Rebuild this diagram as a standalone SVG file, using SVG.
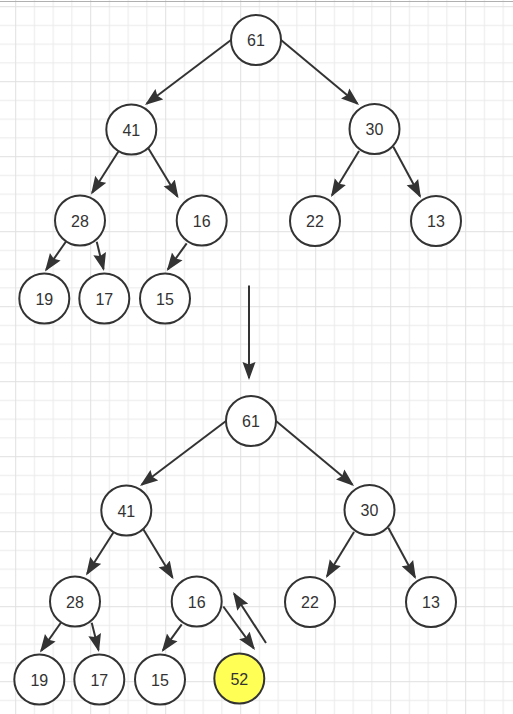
<svg xmlns="http://www.w3.org/2000/svg" width="513" height="714" viewBox="0 0 513 714">
<style>
.n circle{fill:#fff;stroke:#333;stroke-width:2}
.n text{font-family:"Liberation Sans",Arial,sans-serif;font-size:16px;fill:#333;text-anchor:middle}
.e{stroke:#333;stroke-width:2;fill:none;marker-end:url(#ah)}
</style>
<defs>
<pattern id="grid" patternUnits="userSpaceOnUse" x="15.2" y="6.2" width="75" height="75">
<path d="M19.25,0V75M38,0V75M56.75,0V75M0,19.25H75M0,38H75M0,56.75H75" stroke="#eaeaea" stroke-width="1"/>
<path d="M0.5,0V75M0,0.5H75" stroke="#e0e0e0" stroke-width="1"/>
</pattern>
<marker id="ah" markerUnits="userSpaceOnUse" markerWidth="18" markerHeight="14" viewBox="0 0 18 14" refX="16" refY="7" orient="auto">
<path d="M0,0.5L18,7L0,13.5L2.5,7Z" fill="#333"/>
</marker>
</defs>
<rect width="513" height="714" fill="#fff"/>
<rect width="513" height="714" fill="url(#grid)"/>
<line x1="0" y1="1.5" x2="513" y2="1.5" stroke="#b0b0b0" stroke-width="1"/>
<g id="connectors">
<line class="e" x1="231" y1="40" x2="146.6" y2="103.8"/>
<line class="e" x1="281" y1="40" x2="357.5" y2="103.7"/>
<line class="e" x1="118.4" y1="151.5" x2="92.1" y2="192.8"/>
<line class="e" x1="148.3" y1="148.3" x2="177.5" y2="196.6"/>
<line class="e" x1="359" y1="151" x2="332" y2="195.3"/>
<line class="e" x1="393.3" y1="146.7" x2="420" y2="196.2"/>
<line class="e" x1="66" y1="241.5" x2="46.1" y2="269.9"/>
<line class="e" x1="96.7" y1="241.7" x2="103.5" y2="269.1"/>
<line class="e" x1="186.7" y1="243.3" x2="167.9" y2="269.4"/>
<line class="e" x1="249" y1="285.5" x2="249" y2="378"/>
<g transform="translate(-5,381)">
<line class="e" x1="231" y1="40" x2="146.6" y2="103.8"/>
<line class="e" x1="281" y1="40" x2="357.5" y2="103.7"/>
<line class="e" x1="118.4" y1="151.5" x2="92.1" y2="192.8"/>
<line class="e" x1="148.3" y1="148.3" x2="177.5" y2="196.6"/>
<line class="e" x1="359" y1="151" x2="332" y2="195.3"/>
<line class="e" x1="393.3" y1="146.7" x2="420" y2="196.2"/>
<line class="e" x1="66" y1="241.5" x2="46.1" y2="269.9"/>
<line class="e" x1="96.7" y1="241.7" x2="103.5" y2="269.1"/>
<line class="e" x1="186.7" y1="243.3" x2="167.9" y2="269.4"/>
</g>
<line class="e" x1="223.3" y1="606.5" x2="253.8" y2="648.4"/>
<line class="e" x1="266" y1="643" x2="234.1" y2="593.7"/>
</g>
<g id="t61" class="n"><circle cx="256" cy="40" r="25"/><text x="256" y="46">61</text></g>
<g id="t41" class="n"><circle cx="131.3" cy="129.5" r="25"/><text x="131.3" y="135.5">41</text></g>
<g id="t30" class="n"><circle cx="374.5" cy="129" r="25"/><text x="374.5" y="135">30</text></g>
<g id="t28" class="n"><circle cx="80" cy="220.5" r="25"/><text x="80" y="226.5">28</text></g>
<g id="t16" class="n"><circle cx="201.7" cy="220.5" r="25"/><text x="201.7" y="226.5">16</text></g>
<g id="t22" class="n"><circle cx="315" cy="221" r="25"/><text x="315" y="227">22</text></g>
<g id="t13" class="n"><circle cx="436" cy="221" r="25"/><text x="436" y="227">13</text></g>
<g id="t19" class="n"><circle cx="44.3" cy="298.5" r="25"/><text x="44.3" y="304.5">19</text></g>
<g id="t17" class="n"><circle cx="104.3" cy="298.5" r="25"/><text x="104.3" y="304.5">17</text></g>
<g id="t15" class="n"><circle cx="165" cy="298.5" r="25"/><text x="165" y="304.5">15</text></g>
<g id="b61" class="n"><circle cx="251" cy="421" r="25"/><text x="251" y="427">61</text></g>
<g id="b41" class="n"><circle cx="126.3" cy="510.5" r="25"/><text x="126.3" y="516.5">41</text></g>
<g id="b30" class="n"><circle cx="369.5" cy="510" r="25"/><text x="369.5" y="516">30</text></g>
<g id="b28" class="n"><circle cx="75" cy="601.5" r="25"/><text x="75" y="607.5">28</text></g>
<g id="b16" class="n"><circle cx="196.7" cy="601.5" r="25"/><text x="196.7" y="607.5">16</text></g>
<g id="b22" class="n"><circle cx="310" cy="602" r="25"/><text x="310" y="608">22</text></g>
<g id="b13" class="n"><circle cx="431" cy="602" r="25"/><text x="431" y="608">13</text></g>
<g id="b19" class="n"><circle cx="39.3" cy="679.5" r="25"/><text x="39.3" y="685.5">19</text></g>
<g id="b17" class="n"><circle cx="99.3" cy="679.5" r="25"/><text x="99.3" y="685.5">17</text></g>
<g id="b15" class="n"><circle cx="160" cy="679.5" r="25"/><text x="160" y="685.5">15</text></g>
<g id="b52" class="n"><circle cx="239.3" cy="678.5" r="25" style="fill:#ffff55"/><text x="239.3" y="684.5">52</text></g>
</svg>
